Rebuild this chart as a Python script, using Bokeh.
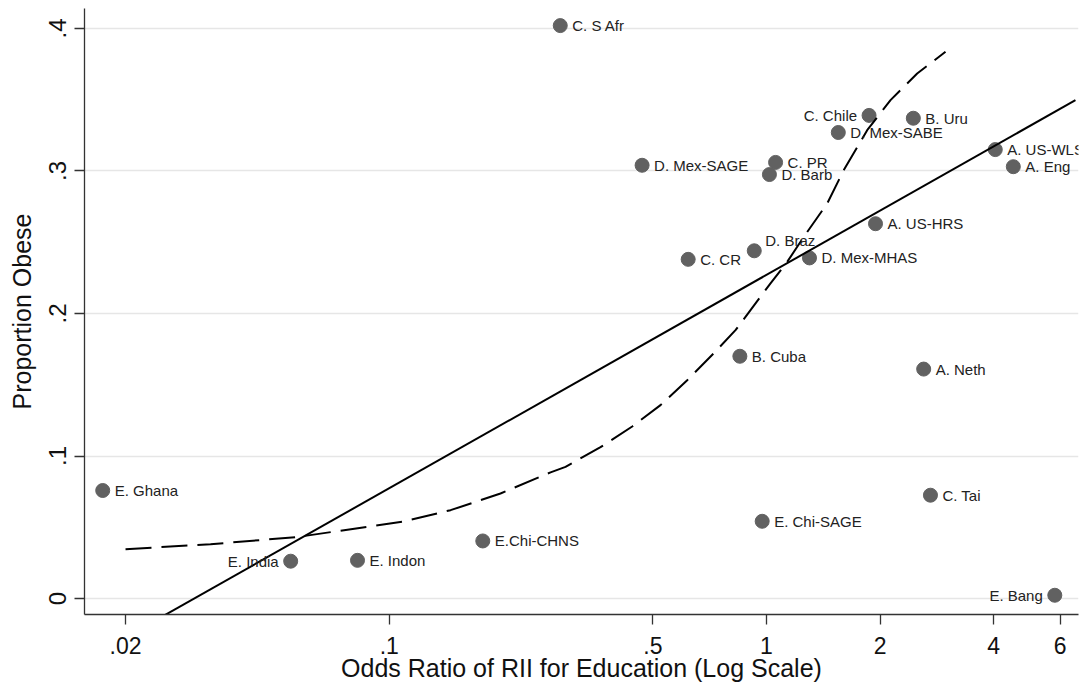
from bokeh.plotting import figure
from bokeh.models import Range1d, FixedTicker, ColumnDataSource, LabelSet
from bokeh.core.properties import value
from bokeh.embed import file_html
from bokeh.resources import INLINE

# ---- data ----
study = ["A. US-WLS", "A. Eng", "A. US-HRS", "A. Neth",
         "B. Uru", "B. Cuba",
         "C. S Afr", "C. Chile", "C. PR", "C. CR", "C. Tai",
         "D. Mex-SAGE", "D. Mex-SABE", "D. Barb", "D. Braz", "D. Mex-MHAS",
         "E. Ghana", "E. India", "E. Indon", "E.Chi-CHNS", "E. Chi-SAGE", "E. Bang"]
odds_ratio = [4.04, 4.51, 1.945, 2.61,
              2.45, 0.85,
              0.284, 1.87, 1.057, 0.62, 2.72,
              0.468, 1.55, 1.018, 0.928, 1.30,
              0.0174, 0.0548, 0.0824, 0.177, 0.974, 5.81]
prop_obese = [0.315, 0.303, 0.263, 0.161,
              0.337, 0.170,
              0.402, 0.339, 0.306, 0.238, 0.0725,
              0.304, 0.327, 0.2975, 0.244, 0.239,
              0.0758, 0.0262, 0.0268, 0.0404, 0.0542, 0.0023]

# dashed (curved) fit
curve_x = [0.0200, 0.0336, 0.0571, 0.1084, 0.1454, 0.1972, 0.2677, 0.2933,
           0.3631, 0.4406, 0.5236, 0.6164, 0.7249, 0.8276, 1.0247,
           1.1347, 1.2558, 1.4483, 1.6028, 1.8487, 2.1316, 2.5083, 2.9818]
curve_y = [0.0346, 0.0381, 0.0432, 0.0539, 0.0620, 0.0737, 0.0885, 0.0924,
           0.1062, 0.1207, 0.1357, 0.1532, 0.1721, 0.1883, 0.2211,
           0.2362, 0.2538, 0.2772, 0.3006, 0.3286, 0.3497, 0.3684, 0.3836]

# solid (linear) fit endpoints
line_x = [0.0252, 6.59]
line_y = [-0.0122, 0.3497]

x_ticks = [0.02, 0.1, 0.5, 1, 2, 4, 6]
x_tick_labels = [".02", ".1", ".5", "1", "2", "4", "6"]
y_ticks = [0, 0.1, 0.2, 0.3, 0.4]
y_tick_labels = ["0", ".1", ".2", ".3", ".4"]

x_title = "Odds Ratio of RII for Education (Log Scale)"
y_title = "Proportion Obese"

# ---- label placement (style) ----
left_labels = {"C. Chile", "E. India", "E. Bang"}
upper_right_labels = {"D. Braz"}

FONT = "Liberation Sans"

p = figure(x_axis_type="log",
           frame_width=994, frame_height=606,
           x_range=Range1d(0.01557, 6.714), y_range=Range1d(-0.0112, 0.414),
           output_backend="svg", toolbar_location=None,
           min_border_left=84, min_border_right=8, min_border_top=8, min_border_bottom=72)

p.outline_line_color = None
p.background_fill_color = "white"
p.border_fill_color = "white"

# grid
p.xgrid.visible = False
yt = FixedTicker(ticks=y_ticks)
p.yaxis.ticker = yt
p.ygrid.ticker = yt
p.ygrid.grid_line_color = "#e6e6e6"
p.ygrid.grid_line_width = 1.6

p.xaxis.ticker = FixedTicker(ticks=x_ticks)
p.xaxis.major_label_overrides = {k: v for k, v in zip(x_ticks, x_tick_labels)}
p.yaxis.major_label_overrides = {k: v for k, v in zip(y_ticks, y_tick_labels)}

for ax in (p.xaxis[0], p.yaxis[0]):
    ax.axis_line_color = "#333333"
    ax.axis_line_width = 1.3
    ax.major_tick_line_color = "#333333"
    ax.major_tick_line_width = 1.3
    ax.major_tick_out = 10
    ax.major_tick_in = 0
    ax.minor_tick_line_color = None
    ax.major_label_text_font = FONT
    ax.major_label_text_color = "#111111"
    ax.axis_label_text_font = FONT
    ax.axis_label_text_font_style = "normal"
    ax.axis_label_text_color = "#111111"

p.xaxis.major_label_text_font_size = "23px"
p.xaxis.major_label_standoff = 12
p.xaxis.axis_label = x_title
p.xaxis.axis_label_text_font_size = "25px"
p.xaxis.axis_label_standoff = -3

p.yaxis.major_label_text_font_size = "24px"
p.yaxis.major_label_orientation = "vertical"
p.yaxis.major_label_standoff = 8
p.yaxis.axis_label = y_title
p.yaxis.axis_label_text_font_size = "25px"
p.yaxis.axis_label_standoff = 11

# points
src = ColumnDataSource(dict(x=odds_ratio, y=prop_obese, name=study))
p.scatter("x", "y", source=src, size=14, fill_color="#616161", line_color="#616161")

# labels (annotations, so they are not clipped at the frame edge)
groups = {"right": ([], [], []), "left": ([], [], []), "ur": ([], [], [])}
for n, xv, yv in zip(study, odds_ratio, prop_obese):
    key = "left" if n in left_labels else ("ur" if n in upper_right_labels else "right")
    groups[key][0].append(xv)
    groups[key][1].append(yv)
    groups[key][2].append(n)

specs = {"right": ("left", 12, 0), "left": ("right", -12, 0), "ur": ("left", 11, 10)}
for key, (xs, ys, ns) in groups.items():
    if not xs:
        continue
    align, xo, yo = specs[key]
    ls = LabelSet(x="x", y="y", text="t", source=ColumnDataSource(dict(x=xs, y=ys, t=ns)),
                  text_align=align, text_baseline="middle", x_offset=xo, y_offset=yo,
                  text_font=value(FONT), text_font_size="15px", text_color="#222222",
                  level="glyph")
    p.add_layout(ls)

# fits
p.line(line_x, line_y, line_color="black", line_width=2)
p.line(curve_x, curve_y, line_color="black", line_width=2, line_dash="26 10")

open("out.html", "w").write(file_html(p, INLINE))
